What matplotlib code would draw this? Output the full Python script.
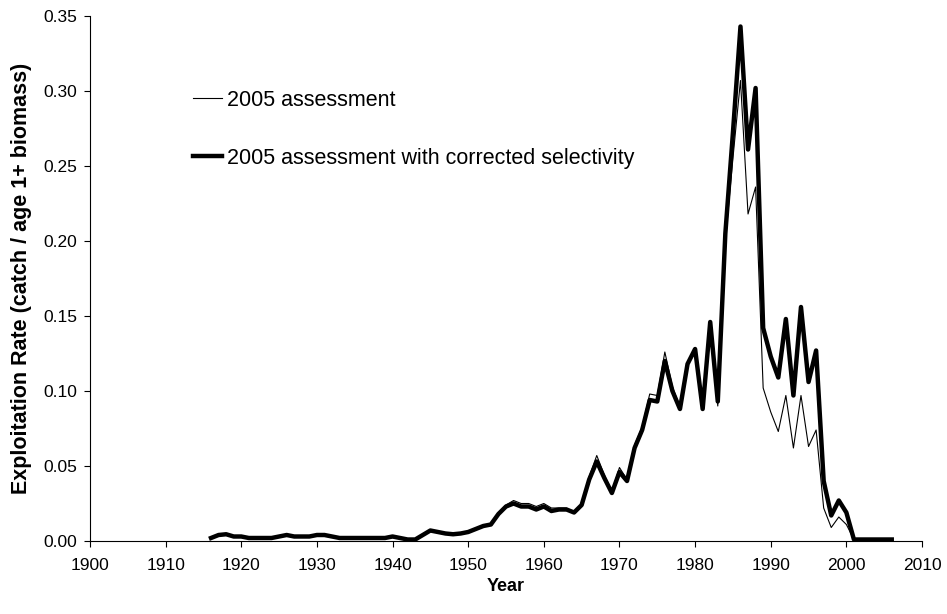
import numpy as np
import matplotlib
matplotlib.use('Agg')
import matplotlib.pyplot as plt

plt.rcParams['font.family'] = ['Liberation Sans', 'DejaVu Sans']

years = list(range(1916, 2007))

# 2005 assessment (thin line)
assess_2005 = [
    0.002, 0.004, 0.0045, 0.003, 0.003, 0.002, 0.002, 0.002, 0.002, 0.003,  # 1916-1925
    0.004, 0.003, 0.003, 0.003, 0.004, 0.004, 0.003, 0.002, 0.002, 0.002,   # 1926-1935
    0.002, 0.002, 0.002, 0.002, 0.003, 0.002, 0.001, 0.001, 0.004, 0.007,   # 1936-1945
    0.006, 0.005, 0.0045, 0.005, 0.006, 0.008, 0.010, 0.011, 0.018, 0.024,  # 1946-1955
    0.027, 0.025, 0.025, 0.023, 0.025, 0.022, 0.022, 0.022, 0.019, 0.024,   # 1956-1965
    0.043, 0.057, 0.044, 0.033, 0.049, 0.041, 0.064, 0.076, 0.098, 0.097,   # 1966-1975
    0.126, 0.103, 0.089, 0.117, 0.126, 0.088, 0.143, 0.090, 0.200, 0.255,   # 1976-1985
    0.307, 0.218, 0.236, 0.102, 0.086, 0.073, 0.097, 0.062, 0.097, 0.063,   # 1986-1995
    0.074, 0.022, 0.009, 0.016, 0.011, 0.001, 0.001, 0.001, 0.001, 0.001,   # 1996-2005
    0.001,                                                                  # 2006
]

# 2005 assessment with corrected selectivity (thick line)
assess_corrected = [
    0.002, 0.004, 0.0045, 0.003, 0.003, 0.002, 0.002, 0.002, 0.002, 0.003,
    0.004, 0.003, 0.003, 0.003, 0.004, 0.004, 0.003, 0.002, 0.002, 0.002,
    0.002, 0.002, 0.002, 0.002, 0.003, 0.002, 0.001, 0.001, 0.004, 0.007,
    0.006, 0.005, 0.0045, 0.005, 0.006, 0.008, 0.010, 0.011, 0.018, 0.023,
    0.025, 0.023, 0.023, 0.021, 0.023, 0.020, 0.021, 0.021, 0.019, 0.024,
    0.041, 0.053, 0.042, 0.032, 0.046, 0.040, 0.062, 0.074, 0.094, 0.093,
    0.120, 0.100, 0.088, 0.118, 0.128, 0.088, 0.146, 0.093, 0.205, 0.272,
    0.343, 0.261, 0.302, 0.142, 0.123, 0.109, 0.148, 0.097, 0.156, 0.106,
    0.127, 0.040, 0.017, 0.027, 0.019, 0.001, 0.001, 0.001, 0.001, 0.001,
    0.001,
]

W, H = 947, 614
fig = plt.figure(figsize=(W / 100, H / 100), dpi=100)
ax = fig.add_axes([90 / W, 1 - 541 / H, (922 - 90) / W, (541 - 16) / H])

ax.plot(years, assess_2005, color='black', lw=0.8, zorder=3,
        label='2005 assessment')
ax.plot(years, assess_corrected, color='black', lw=3.2, zorder=2,
        label='2005 assessment with corrected selectivity')

ax.set_xlim(1900, 2010)
ax.set_ylim(0, 0.35)
ax.set_xticks(np.arange(1900, 2011, 10))
ax.set_yticks(np.arange(0, 0.351, 0.05))
ax.set_yticklabels(['%.2f' % v for v in np.arange(0, 0.351, 0.05)])

for s in ['top', 'right']:
    ax.spines[s].set_visible(False)
for s in ['left', 'bottom']:
    ax.spines[s].set_linewidth(0.8)

ax.tick_params(axis='both', direction='out', length=4, width=0.8,
               labelsize=12.5, colors='black')
ax.tick_params(axis='x', pad=8)
ax.tick_params(axis='y', pad=5)

ax.set_xlabel('Year', fontsize=13, fontweight='bold', labelpad=4)
ax.set_ylabel('Exploitation Rate (catch / age 1+ biomass)', fontsize=15.5,
              fontweight='bold', labelpad=8)

ax.legend(loc='upper left', bbox_to_anchor=(193 / W, 1 - 90 / H),
          bbox_transform=fig.transFigure, frameon=False, fontsize=15.5,
          handlelength=1.35, handletextpad=0.25, labelspacing=1.7,
          borderpad=0, borderaxespad=0)

fig.savefig('out.png', dpi=100)
